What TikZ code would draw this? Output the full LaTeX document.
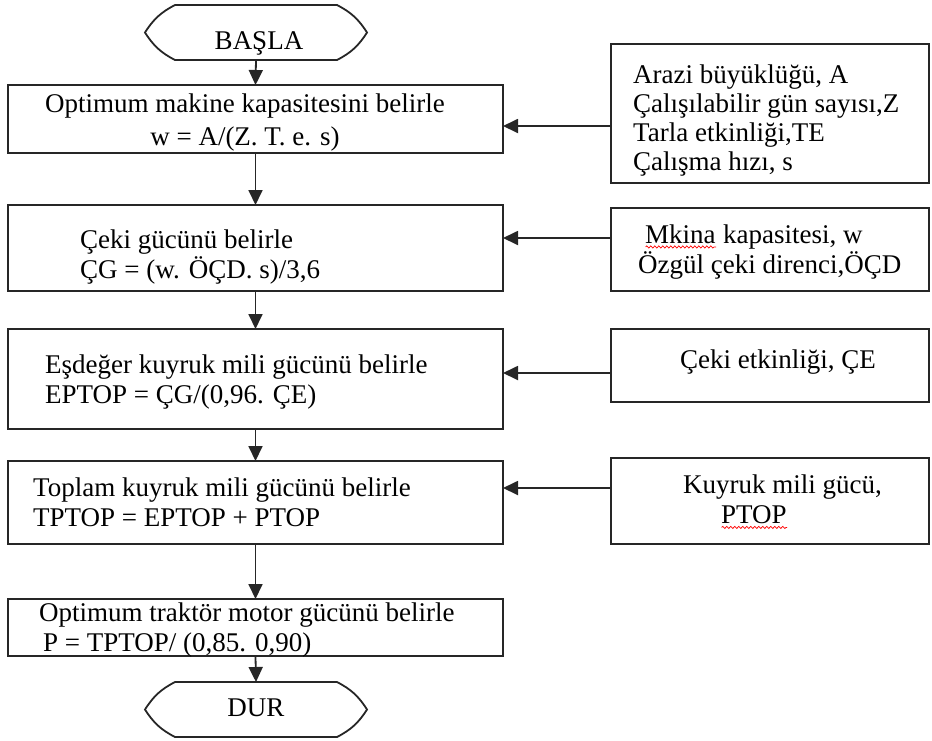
\documentclass[tikz,border=0pt]{standalone}
\usepackage{fontspec}
\setmainfont{Liberation Serif}
\usetikzlibrary{arrows.meta}
\usetikzlibrary{decorations.pathmorphing}

% red spell-check wave under a word
\newsavebox{\wavybox}
\newcommand{\wavy}[1]{\sbox{\wavybox}{#1}\rlap{\usebox{\wavybox}}\tikz[baseline=0pt]\draw[red, line width=0.7pt, decorate, decoration={snake, amplitude=1.1pt, segment length=4pt}] (0pt,-3.5pt) -- (\wd\wavybox,-3.5pt);}

\begin{document}
\begin{tikzpicture}[%
    x=1pt, y=-1pt,
    >={Triangle[length=15pt,width=14pt]},
stepbox/.style={rectangle, draw=black!85, line width=1.8pt, inner sep=0pt, outer sep=0pt, minimum width=495pt},
inbox/.style={rectangle, draw=black!85, line width=1.8pt, inner sep=0pt, outer sep=0pt, minimum width=318pt},
term/.style={rectangle, inner sep=0pt, outer sep=0pt, minimum width=162pt, minimum height=55pt},
termline/.style={draw=black!85, line width=1.8pt},
txt/.style={align=left, inner sep=0pt, font=\fontsize{27}{30}\selectfont},
link/.style={->, draw=black!85, line width=1.8pt}
]
\useasboundingbox (0,0) rectangle (932,740);

% start / stop
\node[term] (start) at (256,32.5) {};
\draw[termline] (start.north west) -- (start.north east) to[bend left=15] ([xshift=30pt]start.east) to[bend left=15] (start.south east) -- (start.south west) to[bend left=15] ([xshift=-30pt]start.west) to[bend left=15] (start.north west) -- cycle;
\node[txt] (starttext) at (259,43) {BAŞLA};

\node[term] (stop) at (256,709.5) {};
\draw[termline] (stop.north west) -- (stop.north east) to[bend left=15] ([xshift=30pt]stop.east) to[bend left=15] (stop.south east) -- (stop.south west) to[bend left=15] ([xshift=-30pt]stop.west) to[bend left=15] (stop.north west) -- cycle;
\node[txt] (stoptext) at (256,708) {DUR};

% step boxes
\node[stepbox, minimum height=68pt] (capacity) at (255.5,119) {};
\node[stepbox, minimum height=86pt] (drawbar) at (255.5,248) {};
\node[stepbox, minimum height=100pt] (eqpto) at (255.5,379) {};
\node[stepbox, minimum height=83pt] (totalpto) at (255.5,502.5) {};
\node[stepbox, minimum height=57pt] (engine) at (255.5,627.5) {};

\node[txt, align=center, font=\fontsize{27}{33}\selectfont] (capacitytext) at (245,123) {Optimum makine kapasitesini belirle\\w = A/(Z. T. e. s)};
\node[txt, anchor=west] (drawbartext) at (80,257) {Çeki gücünü belirle\\ÇG = (w. ÖÇD. s)/3,6};
\node[txt, anchor=west] (eqptotext) at (45,382) {Eşdeğer kuyruk mili gücünü belirle\\EPTOP = ÇG/(0,96. ÇE)};
\node[txt, anchor=west] (totalptotext) at (33,502) {Toplam kuyruk mili gücünü belirle\\TPTOP = EPTOP + PTOP};
\node[txt, anchor=west] (enginetext) at (39,630) {Optimum traktör motor gücünü belirle\\\hspace*{4pt}P = TPTOP/ (0,85. 0,90)};

% input boxes
\node[inbox, minimum height=139pt] (landinfo) at (770,113.5) {};
\node[inbox, minimum height=83pt] (soilinfo) at (770,249.5) {};
\node[inbox, minimum height=73pt] (effinfo) at (770,365.5) {};
\node[inbox, minimum height=86pt] (ptoinfo) at (770,501) {};

\node[txt, anchor=west, font=\fontsize{27}{29}\selectfont] (landtext) at (633,121) {Arazi büyüklüğü, A\\Çalışılabilir gün sayısı,Z\\Tarla etkinliği,TE\\Çalışma hızı, s};
\node[txt, anchor=west] (soiltext) at (638,252) {\hspace*{7pt}\wavy{Mkina} kapasitesi, w\\Özgül çeki direnci,ÖÇD};
\node[txt] (efftext) at (778,362) {Çeki etkinliği, ÇE};
\node[txt, anchor=west] (ptotext) at (683,502) {Kuyruk mili gücü,\\\hspace*{38pt}\wavy{PTOP}};

% main flow
\draw[link] (start.south) -- (capacity.north);
\draw[link] (capacity.south) -- (drawbar.north);
\draw[link] (drawbar.south) -- (eqpto.north);
\draw[link] (eqpto.south) -- (totalpto.north);
\draw[link] (totalpto.south) -- (engine.north);
\draw[link] (engine.south) -- (stop.north);

% inputs
\draw[link] ([yshift=-12.5pt]landinfo.west) -- ([yshift=-12.5pt]landinfo.west -| capacity.east);
\draw[link] ([yshift=11.5pt]soilinfo.west) -- ([yshift=11.5pt]soilinfo.west -| drawbar.east);
\draw[link] ([yshift=-7.5pt]effinfo.west) -- ([yshift=-7.5pt]effinfo.west -| eqpto.east);
\draw[link] ([yshift=13pt]ptoinfo.west) -- ([yshift=13pt]ptoinfo.west -| totalpto.east);

\end{tikzpicture}
\end{document}
